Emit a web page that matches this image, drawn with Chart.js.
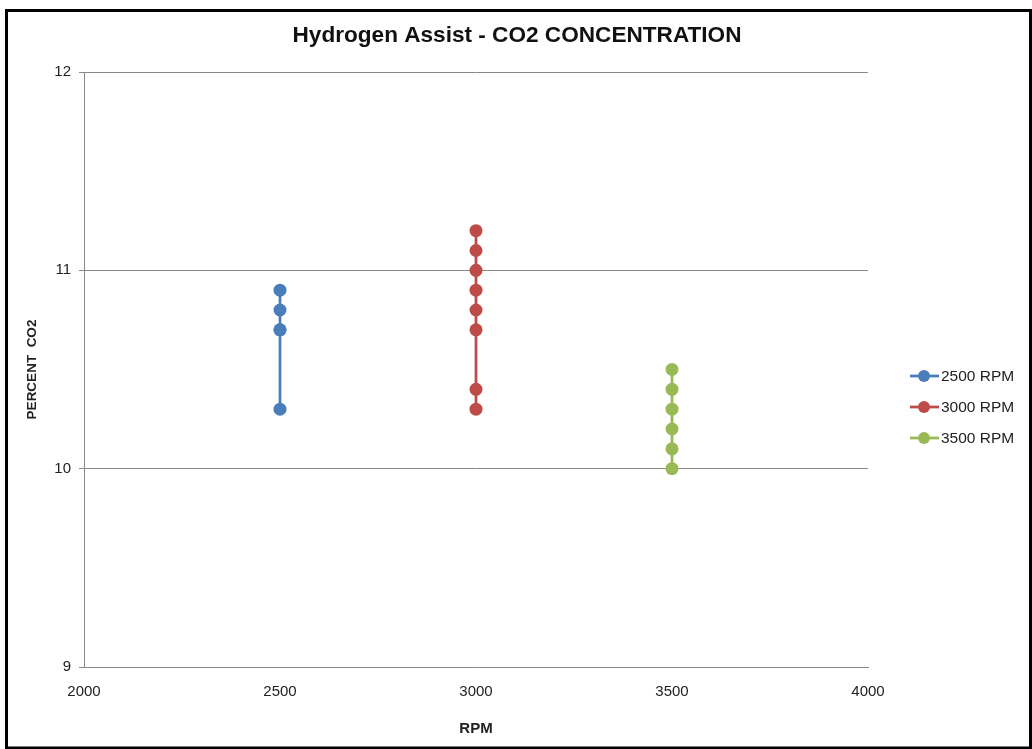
<!DOCTYPE html>
<html>
<head>
<meta charset="utf-8">
<script src="https://cdn.jsdelivr.net/npm/chart.js@4"></script>
<style>
  body { margin: 0; background: #fff; }
  #wrap { width: 1032px; height: 749px; }
</style>
</head>
<body>
<div id="wrap"><canvas id="co2Chart" width="1032" height="749"></canvas></div>
<script>
// series values (x = rpm, y = percent co2)
const seriesNames = ['2500 RPM', '3000 RPM', '3500 RPM'];
const rpm = [2500, 3000, 3500];
const co2_2500 = [10.9, 10.8, 10.7, 10.7, 10.3];
const co2_3000 = [11.2, 11.1, 11.0, 10.9, 10.8, 10.7, 10.4, 10.3];
const co2_3500 = [10.5, 10.4, 10.3, 10.2, 10.1, 10.0];
const xTicks = [2000, 2500, 3000, 3500, 4000];
const yTicks = [9, 10, 11, 12];
const colors = ['#4a7ebb', '#be4b48', '#98b954'];
const chartTitle = 'Hydrogen Assist - CO2 CONCENTRATION';

const allSeries = [co2_2500, co2_3000, co2_3500];
const fontFam = "'Liberation Sans', Arial, sans-serif";

// frame, title (centred on the whole picture) and legend on the right
const framePlugin = {
  id: 'frame',
  afterDraw(chart) {
    const ctx = chart.ctx;
    ctx.save();
    ctx.strokeStyle = '#000';
    ctx.lineWidth = 3;
    ctx.strokeRect(6.5, 10.5, 1024, 737.5);

    ctx.fillStyle = '#111';
    ctx.font = 'bold 22.6px ' + fontFam;
    ctx.textAlign = 'center';
    ctx.textBaseline = 'middle';
    ctx.fillText(chartTitle, 517, 36);

    // legend
    ctx.textAlign = 'left';
    chart.data.datasets.forEach((ds, i) => {
      const y = 376 + i * 31;
      ctx.strokeStyle = ds.borderColor;
      ctx.lineWidth = 2.75;
      ctx.beginPath();
      ctx.moveTo(910, y);
      ctx.lineTo(939, y);
      ctx.stroke();
      ctx.fillStyle = ds.backgroundColor;
      ctx.beginPath();
      ctx.arc(924, y, 6, 0, Math.PI * 2);
      ctx.fill();
      ctx.fillStyle = '#222';
      ctx.font = '15.5px ' + fontFam;
      ctx.fillText(ds.label, 941, y + 1);
    });
    ctx.restore();
  }
};

const datasets = allSeries.map((vals, i) => ({
  label: seriesNames[i],
  data: vals.map(v => ({ x: rpm[i], y: v })),
  showLine: true,
  borderColor: colors[i],
  backgroundColor: colors[i],
  borderWidth: 2.75,
  pointRadius: 6.5,
  pointHoverRadius: 6.5,
  pointBorderWidth: 0
}));

const ctx = document.getElementById('co2Chart').getContext('2d');
new Chart(ctx, {
  type: 'scatter',
  data: { datasets: datasets },
  options: {
    responsive: false,
    animation: false,
    layout: { padding: { left: 10, right: 164, top: 72, bottom: 10 } },
    plugins: {
      legend: { display: false },
      tooltip: { enabled: false },
      title: { display: false }
    },
    scales: {
      x: {
        type: 'linear',
        min: 2000,
        max: 4000,
        afterBuildTicks: s => { s.ticks = xTicks.map(v => ({ value: v })); },
        afterFit: s => { s.height = 72; },
        grid: { display: false, drawTicks: false },
        border: { display: true, color: '#888', width: 1 },
        ticks: {
          color: '#222', padding: 16, maxRotation: 0,
          font: { family: fontFam, size: 15 },
          callback: v => String(v)
        },
        title: {
          display: true,
          text: 'RPM',
          color: '#222',
          font: { family: fontFam, size: 15, weight: 'bold' },
          padding: { top: 0, bottom: 1 }
        }
      },
      y: {
        min: 9,
        max: 12,
        afterBuildTicks: s => { s.ticks = yTicks.map(v => ({ value: v })); },
        afterFit: s => { s.width = 74; },
        grid: { color: '#888', lineWidth: 1, tickLength: 5, drawTicks: true },
        border: { display: true, color: '#888', width: 1 },
        ticks: { color: '#222', padding: 8, font: { family: fontFam, size: 15 } },
        title: {
          display: true,
          text: 'PERCENT  CO2',
          color: '#222',
          font: { family: fontFam, size: 13.5, weight: 'bold' },
          padding: { top: 14, bottom: 0 }
        }
      }
    }
  },
  plugins: [framePlugin]
});
</script>
</body>
</html>
